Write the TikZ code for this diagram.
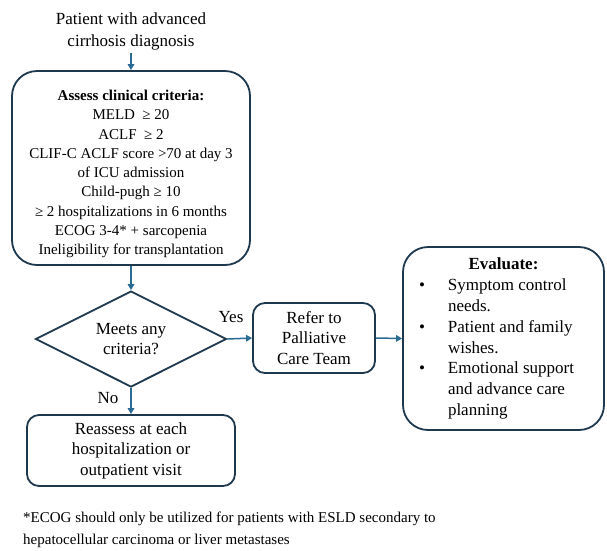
\documentclass[tikz,border=0pt]{standalone}
\usepackage{fontspec}
\setmainfont{Liberation Serif}
\usepackage{array}
\usetikzlibrary{shapes.geometric,arrows.meta}
\definecolor{boxc}{RGB}{30,56,78}
\definecolor{arrc}{RGB}{42,107,148}
\tikzset{
  rbox/.style={draw=boxc, line width=1.8pt, rounded corners=#1, align=center, inner sep=0pt},
  txt/.style={font=\fontsize{17}{20.5}\selectfont},
  arr/.style={draw=arrc, line width=1.5pt, -{Triangle[length=6pt,width=6.5pt]}},
}
\begin{document}
\begin{tikzpicture}[x=1pt,y=-1pt]
\useasboundingbox (0,0) rectangle (607,550);

\node[align=center, font=\fontsize{17}{22}\selectfont] (start) at (131,31) {Patient with advanced\\cirrhosis diagnosis};

\node[rbox=25pt, minimum width=238pt, minimum height=194pt, font=\fontsize{15}{19.3}\selectfont] (crit) at (131,168)
{\begin{tabular}{@{}c@{}}\rule{0pt}{25pt}\textbf{Assess clinical criteria:}\\
MELD \ ≥ 20\\
ACLF \ ≥ 2\\
CLIF-C ACLF score >70 at day 3\\
of ICU admission\\
Child-pugh ≥ 10\\
≥ 2 hospitalizations in 6 months\\
ECOG 3-4* + sarcopenia\\
Ineligibility for transplantation\end{tabular}};

\node[diamond, aspect=2, draw=boxc, line width=1.8pt, minimum width=191pt, minimum height=96pt, inner sep=0pt, txt, align=center] (dia) at (131,339) {Meets any\\criteria?};

\node[rbox=12pt, minimum width=122pt, minimum height=70pt, txt] (refer) at (314,338) {Refer to\\Palliative\\Care Team};

\node[rbox=25pt, minimum width=201pt, minimum height=183pt, font=\fontsize{17}{20.8}\selectfont] (eval) at (503.5,338.5)
{\begin{tabular}{@{}p{34pt}@{}>{\raggedright\arraybackslash}p{145pt}@{}}
\multicolumn{2}{c}{\textbf{Evaluate:}}\\
\hspace*{5pt}\textbullet & Symptom control needs.\\
\hspace*{5pt}\textbullet & Patient and family wishes.\\
\hspace*{5pt}\textbullet & Emotional support and advance care planning
\end{tabular}};

\node[rbox=12pt, minimum width=208pt, minimum height=71pt, txt] (re) at (131,450.5) {Reassess at each\\hospitalization or\\outpatient visit};

\node[txt] (yes) at (231,317) {Yes};
\node[txt] (no) at (108,398) {No};

\node[anchor=west, align=left, inner sep=0pt, font=\fontsize{15}{22}\selectfont] (fn) at (23,530)
{*ECOG should only be utilized for patients with ESLD secondary to\\hepatocellular carcinoma or liver metastases};

\draw[arr] (start.south) -- (crit.north);
\draw[arr] (crit.south) -- (dia.north);
\draw[arr] (dia.east) -- (refer.west);
\draw[arr] (refer.east) -- (eval.west);
\draw[arr] (dia.south) -- (re.north);
\end{tikzpicture}
\end{document}
